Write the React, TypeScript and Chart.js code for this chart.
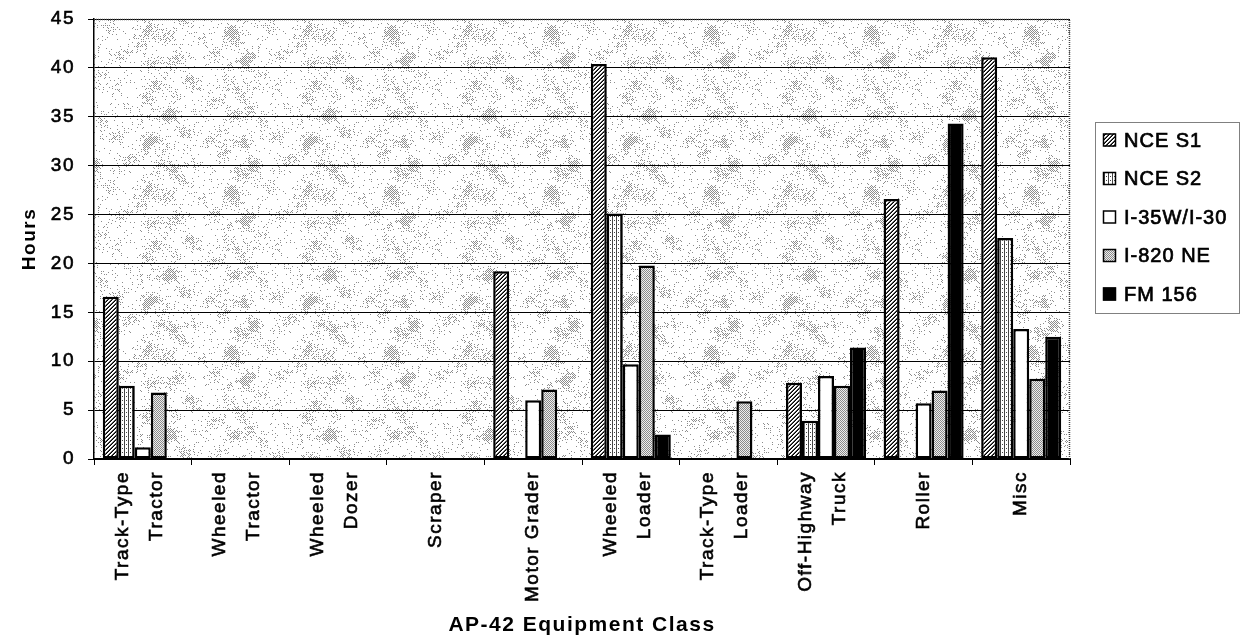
import React, { useEffect, useRef } from "react";
import { Chart, registerables } from "chart.js";

Chart.register(...registerables);

const categories: (string | string[])[] = [
  ["Track-Type", "Tractor"],
  ["Wheeled", "Tractor"],
  ["Wheeled", "Dozer"],
  "Scraper",
  "Motor Grader",
  ["Wheeled", "Loader"],
  ["Track-Type", "Loader"],
  ["Off-Highway", "Truck"],
  "Roller",
  "Misc",
];

const seriesNames = ["NCE S1", "NCE S2", "I-35W/I-30", "I-820 NE", "FM 156"];

const nceS1 = [16.6, 0, 0, 0, 19.2, 40.4, 0, 7.8, 26.6, 41.1];
const nceS2 = [7.5, 0, 0, 0, 0, 25.1, 0, 3.9, 0, 22.6];
const i35 = [1.2, 0, 0, 0, 6.0, 9.7, 0, 8.5, 5.7, 13.3];
const i820 = [6.8, 0, 0, 0, 7.1, 19.8, 5.9, 7.5, 7.0, 8.2];
const fm156 = [0, 0, 0, 0, 0, 2.5, 0, 11.4, 34.3, 12.5];

const yMin = 0;
const yMax = 45;
const yStep = 5;

const FONT = "'Liberation Sans', Arial, Helvetica, sans-serif";

function makePattern(w: number, h: number, draw: (c: CanvasRenderingContext2D) => void): CanvasPattern {
  const c = document.createElement("canvas");
  c.width = w;
  c.height = h;
  const x = c.getContext("2d")!;
  draw(x);
  const host = document.createElement("canvas").getContext("2d")!;
  return host.createPattern(c, "repeat")!;
}

function hash(x: number, y: number): number {
  let h = Math.imul(x, 374761393) + Math.imul(y, 668265263);
  h = Math.imul(h ^ (h >>> 13), 1274126177);
  h = h ^ (h >>> 16);
  return (h >>> 0) / 4294967296;
}

function buildPatterns() {
  const diag = makePattern(4, 4, (c) => {
    c.fillStyle = "#fff";
    c.fillRect(0, 0, 4, 4);
    for (let y = 0; y < 4; y++)
      for (let x = 0; x < 4; x++) {
        const s = (x + y) % 4;
        if (s === 3) {
          c.fillStyle = "#000";
          c.fillRect(x, y, 1, 1);
        } else if (s === 2) {
          c.fillStyle = "#555";
          c.fillRect(x, y, 1, 1);
        }
      }
  });
  const grid = makePattern(4, 4, (c) => {
    c.fillStyle = "#fff";
    c.fillRect(0, 0, 4, 4);
    c.fillStyle = "#444";
    for (let i = 0; i < 4; i += 1) {
      if (i % 2 === 0) c.fillRect(i, 0, 1, 1);
      c.fillRect(0, i, 1, 1);
    }
  });
  const stipple = makePattern(2, 2, (c) => {
    c.fillStyle = "#eee";
    c.fillRect(0, 0, 2, 2);
    c.fillStyle = "#8a8a8a";
    c.fillRect(0, 0, 1, 1);
    c.fillRect(1, 1, 1, 1);
  });
  const S = 160;
  const bg = makePattern(S, S, (c) => {
    c.fillStyle = "#fff";
    c.fillRect(0, 0, S, S);
    c.fillStyle = "#8c8c8c";
    const k = (2 * Math.PI) / S;
    for (let y = 0; y < S; y++)
      for (let x = 0; x < S; x++) {
        if ((x + y) % 2 !== 0) continue;
        const b1 = Math.sin(x * k * 2 + 1.3 * Math.sin(y * k * 3)) * Math.sin(y * k * 3 + 1.1 * Math.cos(x * k * 2));
        const b2 = Math.sin(x * k * 5 + 0.7 + 0.9 * Math.cos(y * k * 2)) * Math.sin(y * k * 4 + 1.9 + 0.8 * Math.sin(x * k * 3));
        const blob = Math.max(0, Math.min(1, 0.45 + 0.4 * b1 + 0.3 * b2));
        const d = 0.05 + 0.9 * blob * blob * blob;
        if (hash(x, y) < d) c.fillRect(x, y, 1, 1);
      }
  });
  return { diag, grid, stipple, bg };
}

export default function App() {
  const ref = useRef<HTMLCanvasElement>(null);

  useEffect(() => {
    document.body.style.margin = "0";
    const p = buildPatterns();
    const fills: (string | CanvasPattern)[] = [p.diag, p.grid, "#ffffff", p.stipple, "#000000"];
    const seriesData = [nceS1, nceS2, i35, i820, fm156];

    const spacingPlugin = {
      id: "spacing",
      beforeUpdate(chart: any) {
        chart.ctx.letterSpacing = "1.5px";
      },
      beforeDraw(chart: any) {
        chart.ctx.letterSpacing = "1.5px";
        const sc = chart.scales.x;
        const items = sc.getLabelItems(chart.chartArea);
        items.forEach((it: any) => {
          if (Array.isArray(it.label) && !it._shifted) {
            it.options.translation[0] -= 20.5;
            it._shifted = true;
          }
        });
      },
    };

    const bgPlugin = {
      id: "plotbg",
      beforeDraw(chart: any) {
        const { ctx, chartArea: a } = chart;
        ctx.save();
        ctx.fillStyle = p.bg;
        ctx.fillRect(a.left, a.top, a.right - a.left, a.bottom - a.top);
        ctx.restore();
      },
      afterDraw(chart: any) {
        const { ctx, chartArea: a } = chart;
        ctx.save();
        ctx.strokeStyle = "#444";
        ctx.lineWidth = 1.5;
        ctx.setLineDash([1, 1]);
        ctx.beginPath();
        ctx.moveTo(a.left, a.top + 0.5);
        ctx.lineTo(a.right - 0.5, a.top + 0.5);
        ctx.lineTo(a.right - 0.5, a.bottom);
        ctx.stroke();
        ctx.restore();
      },
    };

    const legendPlugin = {
      id: "boxlegend",
      afterDraw(chart: any) {
        const ctx = chart.ctx as CanvasRenderingContext2D;
        ctx.save();
        (ctx as any).letterSpacing = "1px";
        ctx.strokeStyle = "#808080";
        ctx.lineWidth = 1;
        ctx.strokeRect(1095.5, 122.5, 144, 191);
        ctx.font = `20px ${FONT}`;
        ctx.textBaseline = "middle";
        ctx.textAlign = "left";
        seriesNames.forEach((name, i) => {
          const cy = 140 + i * 38.5;
          ctx.fillStyle = fills[i] as any;
          ctx.fillRect(1103, cy - 6.5, 13, 13);
          ctx.strokeStyle = "#000";
          ctx.lineWidth = 1.5;
          ctx.strokeRect(1103.5, cy - 6, 12, 12);
          ctx.fillStyle = "#000";
          ctx.lineWidth = 0.7;
          ctx.fillText(name, 1124, cy + 1);
          ctx.strokeText(name, 1124, cy + 1);
        });
        ctx.restore();
      },
    };

    const chart = new Chart(ref.current!, {
      type: "bar",
      data: {
        labels: categories,
        datasets: seriesNames.map((name, i) => ({
          label: name,
          data: seriesData[i],
          backgroundColor: fills[i] as any,
          borderColor: "#000",
          borderWidth: 2.5,
          borderSkipped: false,
          categoryPercentage: 0.82,
          barPercentage: 1.0,
        })),
      },
      options: {
        responsive: false,
        animation: false,
        devicePixelRatio: 1,
        layout: { padding: { top: 19, right: 175, bottom: 0, left: 0 } },
        plugins: {
          legend: { display: false },
          tooltip: { enabled: false },
        },
        font: { family: FONT },
        scales: {
          x: {
            grid: {
              offset: true,
              drawOnChartArea: false,
              drawTicks: true,
              tickLength: 6,
              color: "#000",
            },
            border: { color: "#000", width: 2 },
            ticks: {
              minRotation: 90,
              maxRotation: 90,
              autoSkip: false,
              padding: 6,
              color: "#000",
              textStrokeColor: "#000",
              textStrokeWidth: 0.6,
              font: { family: FONT, size: 19, lineHeight: 1.8 },
            },
            title: {
              display: true,
              text: "AP-42 Equipment Class",
              color: "#000",
              font: { family: FONT, size: 21, weight: "bold" },
              padding: { top: 0, bottom: 3 },
            },
            afterFit: (s: any) => {
              s.height = 182;
              s.paddingTop = 0;
            },
          },
          y: {
            min: yMin,
            max: yMax,
            ticks: {
              stepSize: yStep,
              padding: 13,
              color: "#000",
              textStrokeColor: "#000",
              textStrokeWidth: 0.6,
              font: { family: FONT, size: 19 },
            },
            grid: { color: "#000", lineWidth: 1, tickLength: 6 },
            border: { color: "#000", width: 1.5 },
            title: {
              display: true,
              text: "Hours",
              color: "#000",
              font: { family: FONT, size: 19, weight: "bold" },
              padding: { top: 18, bottom: 0 },
            },
            afterFit: (s: any) => {
              s.width = 94;
              s.paddingTop = 0;
              s.paddingBottom = 0;
            },
          },
        },
      } as any,
      plugins: [spacingPlugin, bgPlugin, legendPlugin],
    });
    return () => chart.destroy();
  }, []);

  return (
    <div style={{ width: 1245, height: 641 }}>
      <canvas ref={ref} width={1245} height={641} style={{ display: "block" }} />
    </div>
  );
}
